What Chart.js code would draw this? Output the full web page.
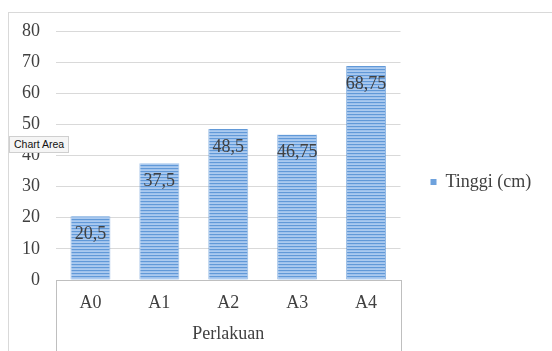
<!DOCTYPE html>
<html>
<head>
<meta charset="utf-8">
<script src="https://cdn.jsdelivr.net/npm/chart.js@4/dist/chart.umd.min.js"></script>
<style>
  html, body { margin: 0; padding: 0; background: #fff; overflow: hidden; }
  #wrap { position: relative; width: 552px; height: 351px; }
  #frame { position: absolute; left: 8px; top: 12px; width: 600px; height: 400px; border: 1px solid #d9d9d9; box-sizing: border-box; }
  canvas { position: absolute; left: 0; top: 0; }
  #tip { position: absolute; left: 9px; top: 136px; padding: 1px 4px 2px 4px; background: #f5f5f5; border: 1px solid #cfcfcf; font: 10.5px "Liberation Sans", Arial, sans-serif; color: #111; white-space: nowrap; }
</style>
</head>
<body>
<div id="wrap">
  <div id="frame"></div>
  <canvas id="chart" width="552" height="351"></canvas>
  <div id="tip">Chart Area</div>
</div>
<script>
const categories = ['A0', 'A1', 'A2', 'A3', 'A4'];
const tinggi = [20.5, 37.5, 48.5, 46.75, 68.75];
const seriesLabel = 'Tinggi (cm)';
const axisTitle = 'Perlakuan';

const serif = "'Liberation Serif', 'Times New Roman', serif";
const textColor = '#404040';
const axisGrey = '#bfbfbf';

// striped fill like the Excel bars
const stripe = document.createElement('canvas');
stripe.width = 1;
stripe.height = 3;
const sctx = stripe.getContext('2d');
sctx.fillStyle = '#6199d8'; sctx.fillRect(0, 0, 1, 1);
sctx.fillStyle = '#9fc2ec'; sctx.fillRect(0, 1, 1, 1);
sctx.fillStyle = '#abcaef'; sctx.fillRect(0, 2, 1, 1);
const barFill = sctx.createPattern(stripe, 'repeat');

const valueLabels = {
    id: 'valueLabels',
    afterDatasetsDraw(chart) {
        const ctx = chart.ctx;
        const meta = chart.getDatasetMeta(0);
        ctx.save();
        ctx.font = '18px ' + serif;
        ctx.fillStyle = textColor;
        ctx.textAlign = 'center';
        ctx.textBaseline = 'middle';
        meta.data.forEach((bar, i) => {
            const txt = String(tinggi[i]).replace('.', ',');
            ctx.fillText(txt, bar.x, bar.y + 18);
        });
        ctx.restore();
    }
};

// outer boundaries of the category axis box (Excel style)
const axisBox = {
    id: 'axisBox',
    afterDraw(chart) {
        const {ctx, chartArea} = chart;
        ctx.save();
        ctx.strokeStyle = axisGrey;
        ctx.lineWidth = 1;
        ctx.beginPath();
        [chartArea.left, chartArea.right].forEach(x => {
            const px = Math.round(x) + 0.5;
            ctx.moveTo(px, chartArea.bottom);
            ctx.lineTo(px, chart.height);
        });
        ctx.stroke();
        ctx.restore();
    }
};

new Chart(document.getElementById('chart'), {
    type: 'bar',
    data: {
        labels: categories,
        datasets: [{
            label: seriesLabel,
            data: tinggi,
            backgroundColor: barFill,
            borderColor: 'rgba(80, 140, 210, 0.6)',
            borderWidth: { left: 1, right: 1, top: 0, bottom: 0 },
            borderSkipped: false,
            categoryPercentage: 1,
            barPercentage: 0.58
        }]
    },
    options: {
        responsive: false,
        animation: false,
        devicePixelRatio: 1,
        layout: { padding: { left: 0, top: 31, right: 18, bottom: 18 } },
        plugins: {
            tooltip: { enabled: false },
            legend: {
                position: 'right',
                labels: {
                    boxWidth: 6,
                    boxHeight: 6,
                    padding: 30,
                    color: textColor,
                    font: { family: serif, size: 18 },
                    generateLabels: chart => Chart.defaults.plugins.legend.labels.generateLabels(chart)
                        .map(item => Object.assign(item, { fillStyle: '#6ea2dd', strokeStyle: '#6ea2dd', lineWidth: 0 }))
                }
            }
        },
        scales: {
            x: {
                grid: { display: false, drawTicks: false },
                border: { display: true, color: axisGrey, width: 1 },
                ticks: { padding: 12, color: textColor, font: { family: serif, size: 18 } },
                title: {
                    display: true,
                    text: axisTitle,
                    color: textColor,
                    font: { family: serif, size: 18 },
                    padding: { top: 0, bottom: -12 }
                },
                afterFit(scale) { scale.height = 53; }
            },
            y: {
                min: 0,
                max: 80,
                ticks: { stepSize: 10, padding: 16, color: textColor, font: { family: serif, size: 18 } },
                grid: { color: '#d9d9d9', drawTicks: false, tickLength: 0 },
                border: { display: false },
                afterFit(scale) { scale.width = 56; }
            }
        }
    },
    plugins: [valueLabels, axisBox]
});
</script>
</body>
</html>
